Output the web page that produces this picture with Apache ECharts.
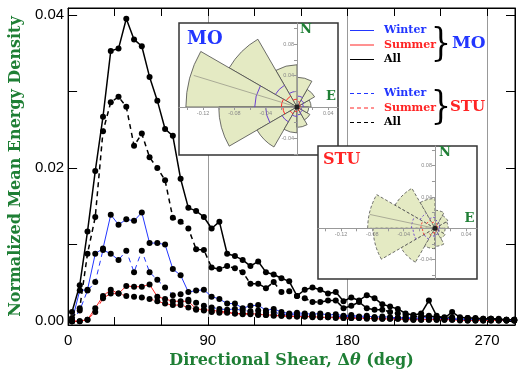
<!DOCTYPE html>
<html>
<head>
<meta charset="utf-8">
<script src="https://cdn.jsdelivr.net/npm/echarts@6/dist/echarts.min.js"></script>
<style>
  html, body { margin: 0; padding: 0; background: #fff; }
  #chart { width: 520px; height: 376px; }
</style>
</head>
<body>
<div id="chart"></div>
<script>
// bin centres of directional shear (deg)
var shear = [2.5, 7.5, 12.5, 17.5, 22.5, 27.5, 32.5, 37.5, 42.5, 47.5,
  52.5, 57.5, 62.5, 67.5, 72.5, 77.5, 82.5, 87.5, 92.5, 97.5,
  102.5, 107.5, 112.5, 117.5, 122.5, 127.5, 132.5, 137.5, 142.5, 147.5,
  152.5, 157.5, 162.5, 167.5, 172.5, 177.5, 182.5, 187.5, 192.5, 197.5,
  202.5, 207.5, 212.5, 217.5, 222.5, 227.5, 232.5, 237.5, 242.5, 247.5,
  252.5, 257.5, 262.5, 267.5, 272.5, 277.5, 282.5, 287.5];

var moAll = [0.0012, 0.0047, 0.0117, 0.0196, 0.0267, 0.0353, 0.0356, 0.0395, 0.0368, 0.0359,
  0.0319, 0.0288, 0.0251, 0.0242, 0.0186, 0.0148, 0.0144, 0.0136, 0.0121, 0.0130,
  0.0088, 0.0085, 0.0080, 0.0072, 0.0078, 0.0064, 0.0061, 0.0056, 0.0052, 0.0033,
  0.0041, 0.0044, 0.0041, 0.0036, 0.0038, 0.0026, 0.0031, 0.0027, 0.0034, 0.0030,
  0.0022, 0.0019, 0.0016, 0.0010, 0.0008, 0.0010, 0.0027, 0.0007, 0.0004, 0.0012,
  0.0005, 0.0004, 0.0004, 0.0003, 0.0003, 0.0003, 0.0002, 0.0002];
var stuAll = [0.0004, 0.0017, 0.0088, 0.0136, 0.0248, 0.0286, 0.0293, 0.0280, 0.0229, 0.0245,
  0.0214, 0.0200, 0.0184, 0.0135, 0.0130, 0.0121, 0.0094, 0.0093, 0.0070, 0.0068,
  0.0072, 0.0069, 0.0064, 0.0049, 0.0049, 0.0043, 0.0051, 0.0038, 0.0039, 0.0033,
  0.0030, 0.0025, 0.0025, 0.0027, 0.0027, 0.0017, 0.0020, 0.0025, 0.0017, 0.0015,
  0.0015, 0.0012, 0.0010, 0.0008, 0.0006, 0.0006, 0.0007, 0.0005, 0.0005, 0.0005,
  0.0004, 0.0004, 0.0003, 0.0003, 0.0003, 0.0002, 0.0002, 0.0002];
var moWinter = [0.0000, 0.0040, 0.0041, 0.0088, 0.0095, 0.0139, 0.0126, 0.0133, 0.0131, 0.0142,
  0.0102, 0.0102, 0.0100, 0.0068, 0.0060, 0.0038, 0.0040, 0.0041, 0.0032, 0.0029,
  0.0023, 0.0023, 0.0017, 0.0020, 0.0021, 0.0014, 0.0016, 0.0012, 0.0010, 0.0011,
  0.0010, 0.0009, 0.0010, 0.0008, 0.0009, 0.0007, 0.0008, 0.0006, 0.0007, 0.0005,
  0.0006, 0.0005, 0.0004, 0.0005, 0.0004, 0.0004, 0.0005, 0.0003, 0.0004, 0.0003,
  0.0003, 0.0003, 0.0003, 0.0002, 0.0003, 0.0002, 0.0002, 0.0002];
var stuWinter = [0.0000, 0.0014, 0.0040, 0.0051, 0.0093, 0.0088, 0.0080, 0.0092, 0.0064, 0.0092,
  0.0064, 0.0054, 0.0044, 0.0034, 0.0035, 0.0028, 0.0024, 0.0020, 0.0018, 0.0016,
  0.0015, 0.0016, 0.0014, 0.0013, 0.0014, 0.0011, 0.0012, 0.0009, 0.0009, 0.0008,
  0.0008, 0.0007, 0.0008, 0.0007, 0.0006, 0.0006, 0.0006, 0.0005, 0.0005, 0.0005,
  0.0004, 0.0004, 0.0004, 0.0004, 0.0003, 0.0003, 0.0003, 0.0003, 0.0003, 0.0003,
  0.0002, 0.0002, 0.0002, 0.0002, 0.0002, 0.0002, 0.0001, 0.0001];
var moSummer = [0.0000, 0.0000, 0.0002, 0.0017, 0.0033, 0.0041, 0.0036, 0.0046, 0.0045, 0.0045,
  0.0048, 0.0032, 0.0029, 0.0026, 0.0026, 0.0026, 0.0016, 0.0015, 0.0014, 0.0013,
  0.0012, 0.0010, 0.0010, 0.0010, 0.0009, 0.0008, 0.0008, 0.0007, 0.0007, 0.0006,
  0.0006, 0.0006, 0.0005, 0.0005, 0.0005, 0.0004, 0.0004, 0.0004, 0.0004, 0.0003,
  0.0003, 0.0003, 0.0003, 0.0003, 0.0002, 0.0002, 0.0002, 0.0002, 0.0002, 0.0002,
  0.0002, 0.0001, 0.0001, 0.0001, 0.0001, 0.0001, 0.0001, 0.0001];
var stuSummer = [0.0000, 0.0000, 0.0002, 0.0012, 0.0030, 0.0036, 0.0036, 0.0033, 0.0032, 0.0031,
  0.0029, 0.0026, 0.0023, 0.0021, 0.0021, 0.0018, 0.0015, 0.0014, 0.0012, 0.0011,
  0.0011, 0.0010, 0.0009, 0.0009, 0.0008, 0.0008, 0.0007, 0.0007, 0.0006, 0.0006,
  0.0006, 0.0005, 0.0005, 0.0005, 0.0004, 0.0004, 0.0004, 0.0004, 0.0003, 0.0003,
  0.0003, 0.0003, 0.0003, 0.0002, 0.0002, 0.0002, 0.0002, 0.0002, 0.0002, 0.0002,
  0.0001, 0.0001, 0.0001, 0.0001, 0.0001, 0.0001, 0.0001, 0.0001];

var yTicks = [0, 0.01, 0.02, 0.03, 0.04];
var yTickLabels = [0, 0.02, 0.04];

// rose insets: sector start angle (deg, counter-clockwise from E), each 30 deg wide
var sectorStart = [0, 30, 60, 90, 120, 150, 180, 210, 240, 270, 300, 330];
var moRose = [0.018, 0.026, 0.038, 0.054, 0.100, 0.142, 0.100, 0.059, 0.033, 0.026, 0.019, 0.015];
var moRoseWinter = [0.008, 0.010, 0.014, 0.020, 0.032, 0.054, 0.040, 0.022, 0.012, 0.010, 0.008, 0.006];
var moRoseSummer = [0.004, 0.005, 0.007, 0.010, 0.016, 0.020, 0.018, 0.010, 0.006, 0.005, 0.004, 0.004];
var stuRose = [0.017, 0.019, 0.023, 0.038, 0.059, 0.086, 0.079, 0.050, 0.026, 0.023, 0.015, 0.013];
var stuRoseWinter = [0.006, 0.008, 0.010, 0.014, 0.022, 0.030, 0.028, 0.016, 0.010, 0.008, 0.006, 0.005];
var stuRoseSummer = [0.003, 0.004, 0.006, 0.008, 0.012, 0.018, 0.016, 0.010, 0.006, 0.004, 0.003, 0.003];
var moMean = [163, 0.138];
var stuMean = [168, 0.085];
var roseTicksX = [-0.14, -0.12, -0.10, -0.08, -0.06, -0.04, -0.02, 0, 0.02, 0.04];
var roseLabelsX = [-0.12, -0.08, -0.04, 0.04];
var roseTicksY = [-0.06, -0.04, -0.02, 0, 0.02, 0.04, 0.06, 0.08, 0.10];
var roseLabelsY = [-0.04, 0.04, 0.08];

var BLUE = "#2236ff", RED = "#ff2424", GREEN = "#1f7f35";
var SERIF = '"DejaVu Serif", "Liberation Serif", serif';

var insetGrids = [
  { left: 179, top: 23, width: 159, height: 132, xMin: -0.1508, xMax: 0.0524, yMin: -0.0613, yMax: 0.1073 },
  { left: 318, top: 146, width: 159, height: 133, xMin: -0.1495, xMax: 0.0537, yMin: -0.0648, yMax: 0.1052 }
];

var chart = echarts.init(document.getElementById("chart"));

function lineSeries(name, values, color, dashed, width) {
  return {
    name: name, type: "line", xAxisIndex: 0, yAxisIndex: 0,
    data: shear.map(function (x, i) { return [x, values[i]]; }),
    symbol: "circle", symbolSize: 6,
    itemStyle: { color: "#000" },
    lineStyle: { color: color, width: width, type: dashed ? [5, 4] : "solid" },
    z: 3
  };
}

function rad(d) { return d * Math.PI / 180; }

function roseSeries(axis, radii, fill, stroke, dash) {
  return {
    type: "custom", xAxisIndex: axis, yAxisIndex: axis, z: 11, silent: true,
    data: sectorStart.map(function (a, i) { return [a, radii[i]]; }),
    renderItem: function (params, api) {
      var c = api.coord([0, 0]);
      var r = api.size([api.value(1), 0])[0];
      var a0 = api.value(0);
      return {
        type: fill ? "sector" : "arc",
        shape: { cx: c[0], cy: c[1], r0: 0, r: r, startAngle: -rad(a0 + 30), endAngle: -rad(a0), clockwise: true },
        style: { fill: fill || null, stroke: stroke, lineWidth: fill ? 0.8 : 1, lineDash: dash || null }
      };
    }
  };
}

function meanSeries(axis, mean) {
  return {
    type: "custom", xAxisIndex: axis, yAxisIndex: axis, z: 13, silent: true,
    data: [mean],
    renderItem: function (params, api) {
      var c = api.coord([0, 0]);
      var r = api.size([api.value(1), 0])[0];
      var a = rad(api.value(0));
      return {
        type: "group",
        children: [
          { type: "line", shape: { x1: c[0], y1: c[1], x2: c[0] + r * Math.cos(a), y2: c[1] - r * Math.sin(a) },
            style: { stroke: "#9a9a8a", lineWidth: 0.8 } },
          { type: "circle", shape: { cx: c[0], cy: c[1], r: 2.5 }, style: { fill: "#222" } }
        ]
      };
    }
  };
}

// inset axes cross at the origin: shift them in from the grid edge
function roseX(i) {
  var g = insetGrids[i];
  return {
    gridIndex: i + 1, type: "value", min: g.xMin, max: g.xMax, z: 12, position: "bottom",
    offset: -(0 - g.yMin) / (g.yMax - g.yMin) * g.height,
    axisLine: { onZero: false, lineStyle: { color: "#999", width: 1 } },
    axisTick: { customValues: roseTicksX, length: 3, lineStyle: { color: "#999" } },
    axisLabel: { customValues: roseLabelsX, formatter: function (v) { return v.toFixed(2); }, fontSize: 5.5, color: "#888", margin: 3 },
    splitLine: { show: false }
  };
}
function roseY(i) {
  var g = insetGrids[i];
  return {
    gridIndex: i + 1, type: "value", min: g.yMin, max: g.yMax, z: 12, position: "left",
    offset: -(0 - g.xMin) / (g.xMax - g.xMin) * g.width,
    axisLine: { onZero: false, lineStyle: { color: "#999", width: 1 } },
    axisTick: { customValues: roseTicksY, length: 3, lineStyle: { color: "#999" } },
    axisLabel: { customValues: roseLabelsY, formatter: function (v) { return v.toFixed(2); }, fontSize: 5.5, color: "#888", margin: 3 },
    splitLine: { show: false }
  };
}

function txt(text, x, y, color, size, align) {
  return { type: "text", x: x, y: y, z: 30,
    style: { text: text, fill: color, font: "bold " + size + "px " + SERIF, align: align || "left", verticalAlign: "middle" } };
}
function sample(y, color, dashed) {
  return { type: "line", z: 30, shape: { x1: 350, y1: y, x2: 374, y2: y },
    style: { stroke: color, lineWidth: 1, lineDash: dashed ? [4, 3] : null } };
}
function brace(y) {
  return { type: "text", x: 441, y: y, z: 30, scaleX: 0.8,
    style: { text: "}", fill: "#000", font: "40px " + SERIF, align: "center", verticalAlign: "middle" } };
}

var mainTickStyle = { inside: true, length: 8, lineStyle: { color: "#000" } };

chart.setOption({
  animation: false,
  grid: [
    { left: 67, top: 8, width: 448, height: 317, show: true, borderColor: "#000", borderWidth: 1 },
    { left: insetGrids[0].left, top: insetGrids[0].top, width: insetGrids[0].width, height: insetGrids[0].height,
      show: true, backgroundColor: "#fff", borderColor: "#333", borderWidth: 1.5, z: 10 },
    { left: insetGrids[1].left, top: insetGrids[1].top, width: insetGrids[1].width, height: insetGrids[1].height,
      show: true, backgroundColor: "#fff", borderColor: "#333", borderWidth: 1.5, z: 10 }
  ],
  xAxis: [
    { gridIndex: 0, type: "value", min: 0, max: 288, interval: 30, position: "bottom",
      axisLine: { onZero: false, lineStyle: { color: "#000" } }, axisTick: mainTickStyle,
      axisLabel: { formatter: function (v) { return v % 90 === 0 ? String(v) : ""; },
        fontSize: 15, color: "#000", fontFamily: "Liberation Sans", margin: 8 },
      splitLine: { show: false },
      name: "{a|Directional Shear, Δ}{b|θ}{a| (deg)}", nameLocation: "middle", nameGap: 26,
      nameTextStyle: { rich: {
        a: { fontFamily: SERIF, fontWeight: "bold", fontSize: 16, color: GREEN },
        b: { fontFamily: SERIF, fontWeight: "bold", fontStyle: "italic", fontSize: 16, color: GREEN } } } },
    { gridIndex: 0, type: "value", min: 0, max: 288, interval: 30, position: "top",
      axisLine: { onZero: false, lineStyle: { color: "#000" } }, axisTick: mainTickStyle,
      axisLabel: { show: false }, splitLine: { show: false } },
    { gridIndex: 0, type: "value", min: 0, max: 288, interval: 90, position: "bottom",
      axisLine: { show: false }, axisTick: { show: false }, axisLabel: { show: false },
      splitLine: { show: true, lineStyle: { color: "#999", width: 1 } } },
    roseX(0),
    roseX(1)
  ],
  yAxis: [
    { gridIndex: 0, type: "value", min: -0.0005, max: 0.0409, position: "left",
      axisLine: { onZero: false, lineStyle: { color: "#000" } },
      axisTick: { inside: true, length: 9, customValues: yTicks, lineStyle: { color: "#000" } },
      axisLabel: { customValues: yTickLabels, formatter: function (v) { return v.toFixed(2); },
        fontSize: 15, color: "#000", fontFamily: "Liberation Sans", margin: 4 },
      splitLine: { show: false },
      name: "Normalized Mean Energy Density", nameLocation: "middle", nameGap: 44,
      nameTextStyle: { fontFamily: SERIF, fontWeight: "bold", fontSize: 16, color: GREEN } },
    { gridIndex: 0, type: "value", min: -0.0005, max: 0.0409, position: "right",
      axisLine: { onZero: false, lineStyle: { color: "#000" } },
      axisTick: { inside: true, length: 9, customValues: yTicks, lineStyle: { color: "#000" } },
      axisLabel: { show: false }, splitLine: { show: false } },
    { gridIndex: 0, type: "value", min: -0.0005, max: 0.0409, show: false },
    roseY(0),
    roseY(1)
  ],
  series: [
    lineSeries("MO Summer", moSummer, RED, false, 1),
    lineSeries("STU Summer", stuSummer, RED, true, 1),
    lineSeries("MO Winter", moWinter, BLUE, false, 1),
    lineSeries("STU Winter", stuWinter, BLUE, true, 1),
    lineSeries("STU All", stuAll, "#000", true, 1.5),
    lineSeries("MO All", moAll, "#000", false, 1.5),
    roseSeries(3, moRose, "#e4eac3", "#4a4a4a", null),
    roseSeries(3, moRoseWinter, null, "#6a3fd0", null),
    roseSeries(3, moRoseSummer, null, "#ff2a2a", null),
    meanSeries(3, moMean),
    roseSeries(4, stuRose, "#e4eac3", "#4a4a4a", [3, 2]),
    roseSeries(4, stuRoseWinter, null, "#6a3fd0", [2, 2]),
    roseSeries(4, stuRoseSummer, null, "#ff2a2a", [2, 2]),
    meanSeries(4, stuMean)
  ],
  graphic: [
    sample(30.5, BLUE, false), sample(45, RED, false), sample(59.5, "#000", false),
    sample(93.5, BLUE, true), sample(108, RED, true), sample(122.5, "#000", true),
    txt("Winter", 384, 30.5, BLUE, 11), txt("Summer", 384, 45, RED, 11), txt("All", 384, 59.5, "#000", 11),
    txt("Winter", 384, 93.5, BLUE, 11), txt("Summer", 384, 108, RED, 11), txt("All", 384, 122.5, "#000", 11),
    brace(45), brace(108),
    txt("MO", 452, 44, BLUE, 17), txt("STU", 450, 107.5, RED, 15),
    txt("MO", 187, 39, BLUE, 18), txt("STU", 323, 160, RED, 16),
    txt("N", 306, 30, GREEN, 13, "center"), txt("E", 331, 97, GREEN, 13, "center"),
    txt("N", 445, 152.5, GREEN, 13, "center"), txt("E", 469.5, 219, GREEN, 13, "center")
  ]
});
</script>
</body>
</html>
